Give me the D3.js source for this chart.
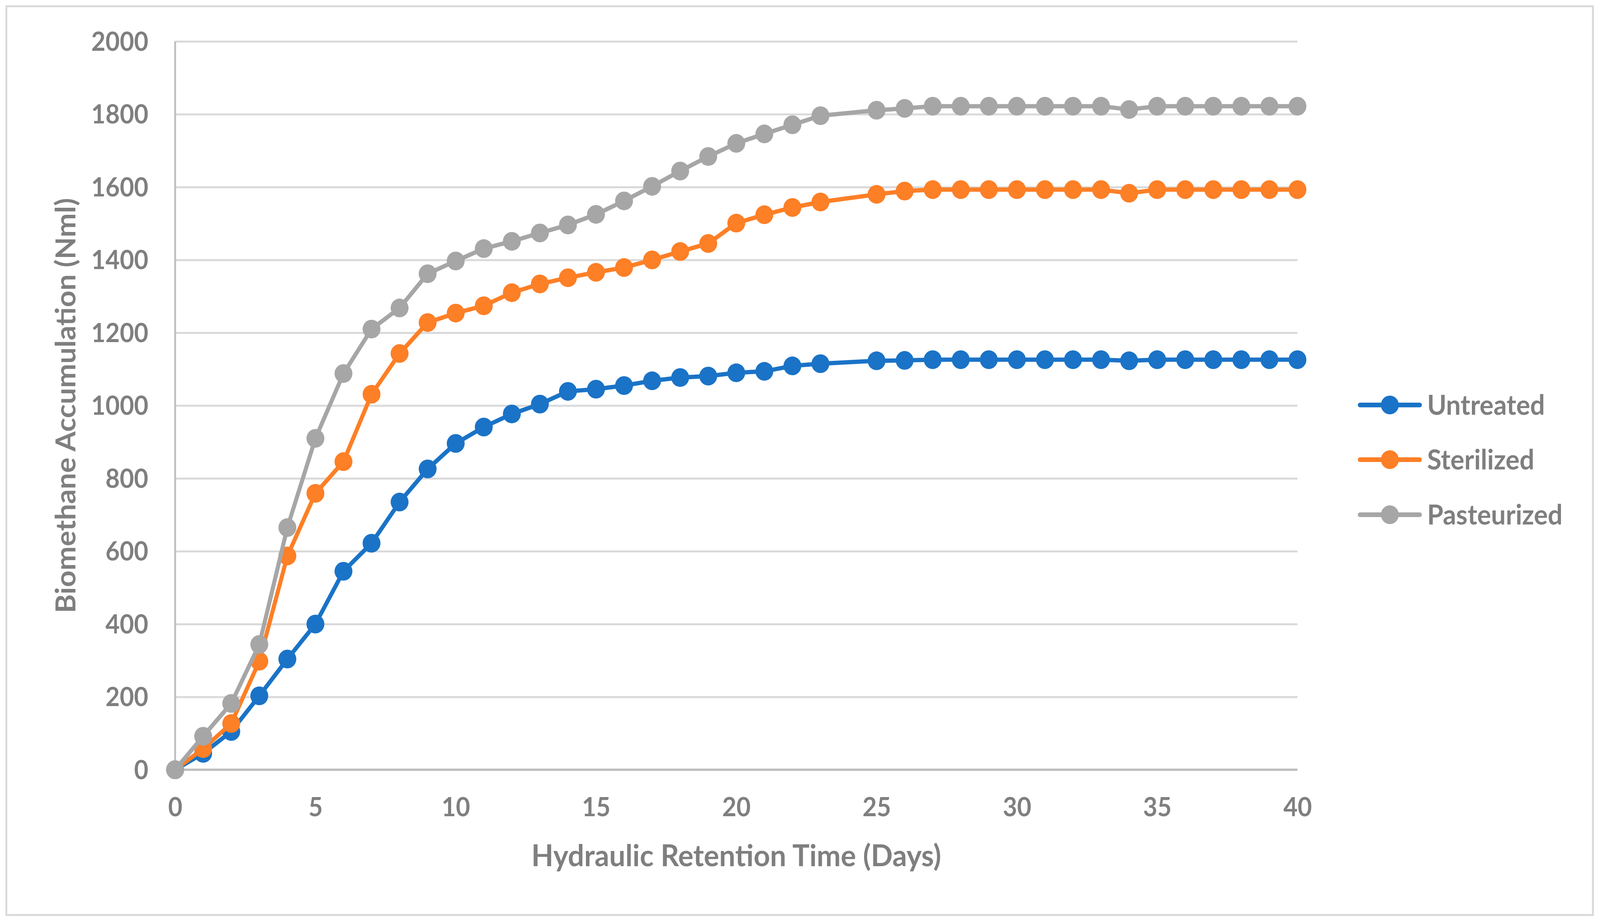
<!DOCTYPE html>
<html>
<head>
<meta charset="utf-8">
<script src="https://cdn.jsdelivr.net/npm/d3@7"></script>
<style>
  html, body { margin: 0; padding: 0; background: #fff; overflow: hidden; }
  svg { display: block; }
  text { font-family: Lato, "Open Sans", sans-serif; font-weight: bold; fill: #7f7f7f; }
</style>
</head>
<body>
<svg id="chart"></svg>
<script>
// biomethane accumulation vs HRT, three treatments

const days = [0, 1, 2, 3, 4, 5, 6, 7, 8, 9, 10, 11, 12, 13, 14, 15, 16, 17, 18, 19, 20, 21, 22, 23,
  25, 26, 27, 28, 29, 30, 31, 32, 33, 34, 35, 36, 37, 38, 39, 40];

const untreated = [0, 45, 105, 203, 304, 400, 545, 622, 735, 826, 896, 941, 977, 1004, 1039, 1045, 1055, 1068, 1077, 1081, 1090, 1094, 1109, 1115,
  1123, 1124, 1126, 1126, 1126, 1126, 1126, 1126, 1126, 1123, 1126, 1126, 1126, 1126, 1126, 1126];

const sterilized = [0, 58, 127, 298, 587, 759, 846, 1031, 1143, 1228, 1254, 1274, 1310, 1334, 1351, 1366, 1379, 1400, 1423, 1445, 1501, 1524, 1544, 1559,
  1580, 1589, 1593, 1593, 1593, 1593, 1593, 1593, 1593, 1583, 1593, 1593, 1593, 1593, 1593, 1593];

const pasteurized = [0, 92, 182, 344, 665, 910, 1088, 1210, 1268, 1362, 1397, 1431, 1451, 1474, 1496, 1525, 1562, 1602, 1644, 1684, 1720, 1746, 1771, 1796,
  1811, 1816, 1822, 1822, 1822, 1822, 1822, 1822, 1822, 1813, 1822, 1822, 1822, 1822, 1822, 1822];

const seriesNames = ["Untreated", "Sterilized", "Pasteurized"];
const seriesColors = ["#1a73c7", "#fd7f26", "#a6a6a6"];
const xTicks = [0, 5, 10, 15, 20, 25, 30, 35, 40];
const yTicks = [0, 200, 400, 600, 800, 1000, 1200, 1400, 1600, 1800, 2000];

const w = 4294;
const h = 2366;
const plot = {left: 470, right: 3482, top: 106, bottom: 1971};

// stretch to whatever the window really is
const svg = d3.select("#chart")
  .attr("viewBox", `0 0 ${w} ${h}`)
  .attr("preserveAspectRatio", "none")
  .style("width", "100vw")
  .style("height", "100vh");

// outer frame
svg.append("rect")
  .attr("x", 17).attr("y", 16)
  .attr("width", 4275 - 17).attr("height", 2343 - 16)
  .attr("fill", "#fff")
  .attr("stroke", "#d9d9d9")
  .attr("stroke-width", 5);

const x = d3.scaleLinear().domain([0, 40]).range([plot.left, plot.right]);
const y = d3.scaleLinear().domain([0, 2000]).range([plot.bottom, plot.top]);

// gridlines + y labels
const yAxis = d3.axisLeft(y)
  .tickValues(yTicks)
  .tickSize(-(plot.right - plot.left))
  .tickPadding(72)
  .tickFormat(d3.format("d"));

const gy = svg.append("g")
  .attr("transform", `translate(${plot.left},0)`)
  .call(yAxis);
gy.select(".domain").remove();
gy.selectAll(".tick line").attr("stroke", "#d9d9d9").attr("stroke-width", 5);
gy.selectAll(".tick text").style("font-size", "66px").attr("dy", "0.35em");

// x axis
const xAxis = d3.axisBottom(x)
  .tickValues(xTicks)
  .tickSize(0)
  .tickPadding(72);

const gx = svg.append("g")
  .attr("transform", `translate(0,${plot.bottom})`)
  .call(xAxis);
gx.select(".domain").remove();
gx.selectAll(".tick text").style("font-size", "66px");

// axis lines
svg.append("line")
  .attr("x1", plot.left).attr("x2", plot.left)
  .attr("y1", plot.top).attr("y2", plot.bottom)
  .attr("stroke", "#bfbfbf").attr("stroke-width", 5);
svg.append("line")
  .attr("x1", plot.left).attr("x2", plot.right)
  .attr("y1", plot.bottom).attr("y2", plot.bottom)
  .attr("stroke", "#bfbfbf").attr("stroke-width", 6);

// axis titles
svg.append("text")
  .attr("x", (plot.left + plot.right) / 2)
  .attr("y", 2218)
  .attr("text-anchor", "middle")
  .style("font-size", "77px")
  .text("Hydraulic Retention Time (Days)");

svg.append("text")
  .attr("transform", `translate(202,${(plot.top + plot.bottom) / 2}) rotate(-90)`)
  .attr("text-anchor", "middle")
  .style("font-size", "74px")
  .text("Biomethane Accumulation (Nml)");

// series
const allSeries = [untreated, sterilized, pasteurized];
const line = d3.line()
  .x(d => x(d.day))
  .y(d => y(d.val));

allSeries.forEach((vals, i) => {
  const pts = days.map((d, j) => ({day: d, val: vals[j]}));
  const g = svg.append("g").attr("class", "series-" + i);

  g.append("path")
    .datum(pts)
    .attr("d", line)
    .attr("fill", "none")
    .attr("stroke", seriesColors[i])
    .attr("stroke-width", 11)
    .attr("stroke-linejoin", "round");

  g.selectAll("circle")
    .data(pts)
    .join("circle")
    .attr("cx", d => x(d.day))
    .attr("cy", d => y(d.val))
    .attr("r", 24)
    .attr("fill", seriesColors[i]);
});

// legend
const legend = svg.append("g").attr("id", "legend");
const legendY = [1037, 1177, 1318];
seriesNames.forEach((name, i) => {
  const row = legend.append("g").attr("transform", `translate(0,${legendY[i]})`);
  row.append("line")
    .attr("x1", 3650).attr("x2", 3810)
    .attr("stroke", seriesColors[i])
    .attr("stroke-width", 12)
    .attr("stroke-linecap", "round");
  row.append("circle")
    .attr("cx", 3730).attr("r", 24)
    .attr("fill", seriesColors[i]);
  row.append("text")
    .attr("x", 3830)
    .attr("dy", "0.35em")
    .style("font-size", "70px")
    .text(name);
});
</script>
</body>
</html>
